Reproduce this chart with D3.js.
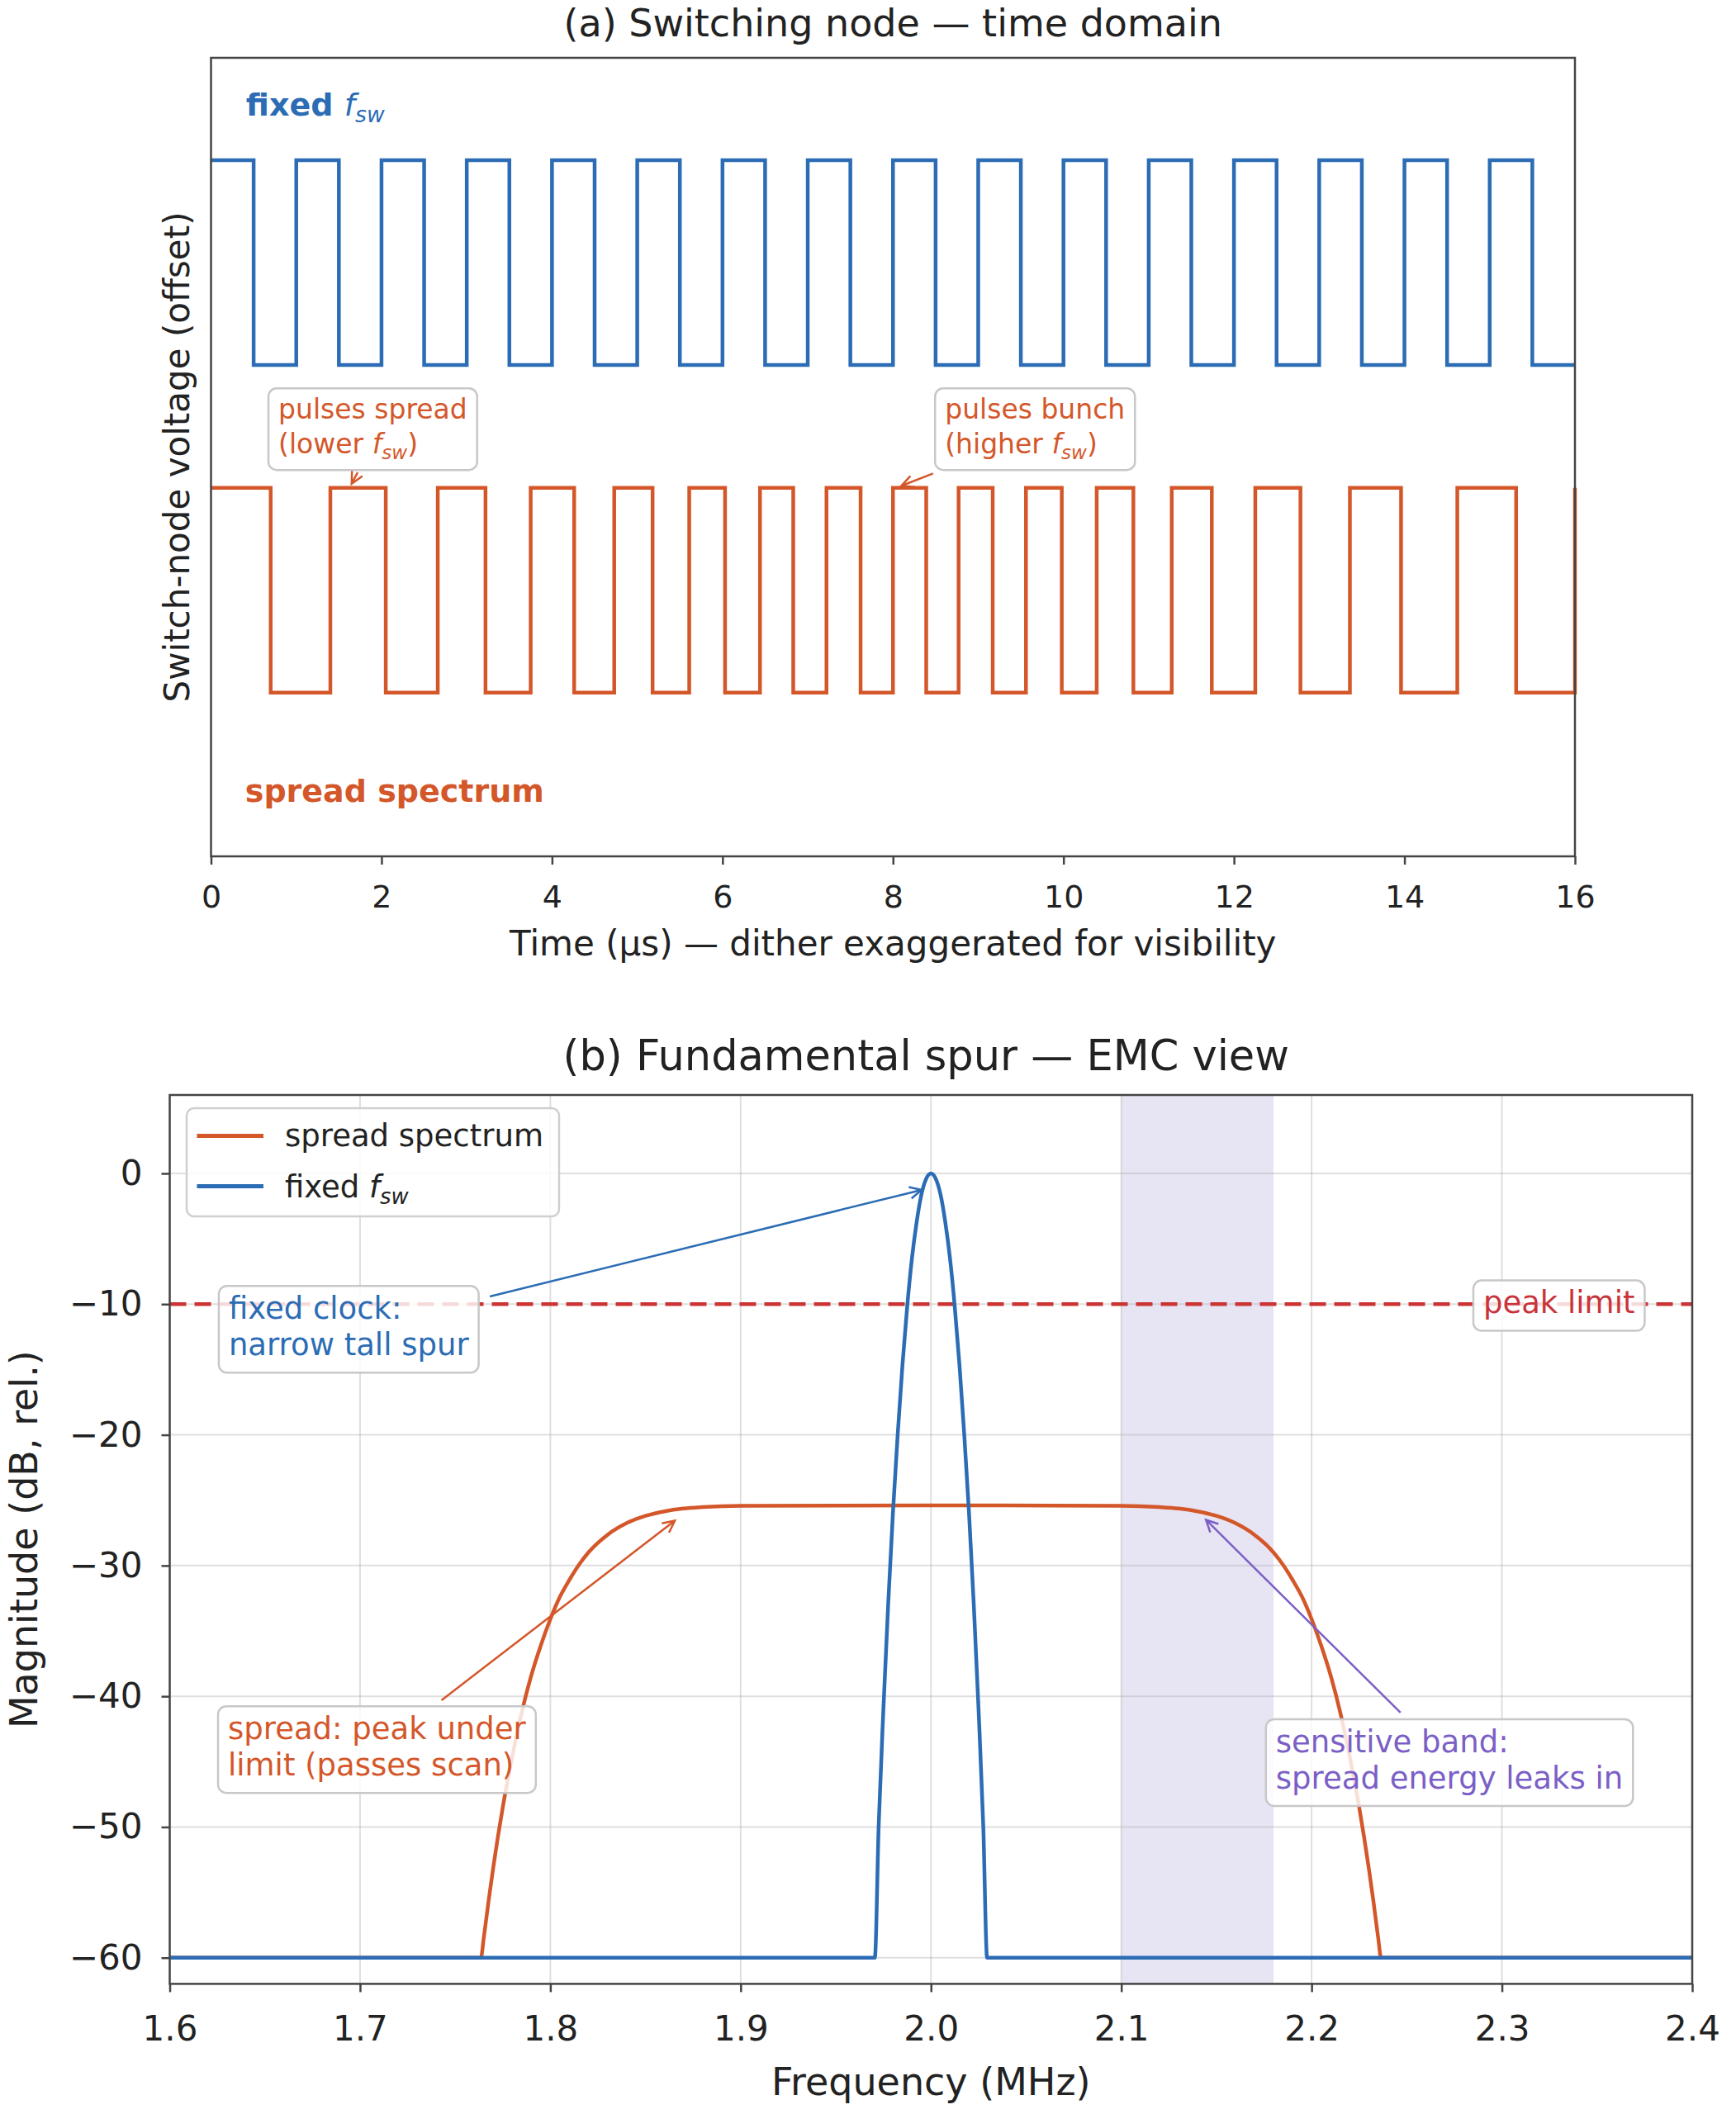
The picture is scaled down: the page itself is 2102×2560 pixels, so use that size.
<!DOCTYPE html>
<html>
<head>
<meta charset="utf-8">
<script src="https://cdn.jsdelivr.net/npm/d3@7"></script>
<style>
  body { margin: 0; background: #fff; }
  text { font-family: "DejaVu Sans", sans-serif; }
</style>
</head>
<body>
<svg id="chart" width="2102" height="2560"></svg>
<script>
// ---- panel (a): switch-node waveforms ----
const timeTicks = [0, 2, 4, 6, 8, 10, 12, 14, 16];
// edge times (µs); each waveform starts high and toggles at every edge
const fixedEdges = [0.5, 1.0, 1.5, 2.0, 2.5, 3.0, 3.5, 4.0, 4.5, 5.0, 5.5, 6.0, 6.5, 7.0, 7.5, 8.0,
  8.5, 9.0, 9.5, 10.0, 10.5, 11.0, 11.5, 12.0, 12.5, 13.0, 13.5, 14.0, 14.5, 15.0, 15.5];
const spreadEdges = [0.70, 1.40, 2.05, 2.66, 3.22, 3.75, 4.26, 4.73, 5.18, 5.61, 6.03, 6.44, 6.83,
  7.22, 7.62, 8.00, 8.39, 8.77, 9.17, 9.56, 9.98, 10.39, 10.82, 11.27, 11.74, 12.25, 12.78,
  13.36, 13.96, 14.62, 15.31, 16.0];
const fixedLevels = [1.6, 2.6];   // low, high (offset)
const spreadLevels = [0, 1];

// ---- panel (b): fundamental spur spectrum ----
const freqTicks = [1.6, 1.7, 1.8, 1.9, 2.0, 2.1, 2.2, 2.3, 2.4];
const magTicks = [-60, -50, -40, -30, -20, -10, 0];
const fixedFreq = [1.6, 1.9705, 1.9725, 1.975, 1.9775, 1.98, 1.9825, 1.985, 1.9875, 1.99, 1.9925,
  1.995, 1.9975, 2.0, 2.0025, 2.005, 2.0075, 2.01, 2.0125, 2.015, 2.0175, 2.02, 2.0225, 2.025,
  2.0275, 2.0295, 2.4];
const fixedMag = [-60, -60, -50, -41, -33, -26, -20, -14.7, -10.2, -6.5, -3.7,
  -1.6, -0.4, 0, -0.4, -1.6, -3.7, -6.5, -10.2, -14.7, -20, -26, -33, -41,
  -50, -60, -60];
const spreadFreq = [1.6, 1.7635, 1.765, 1.7675, 1.77, 1.775, 1.78, 1.785, 1.79, 1.795, 1.80,
  1.805, 1.81, 1.815, 1.82, 1.83, 1.84, 1.85, 1.86, 1.87, 1.88, 1.90, 2.0, 2.10, 2.12, 2.13,
  2.14, 2.15, 2.16, 2.17, 2.18, 2.185, 2.19, 2.195, 2.20, 2.205, 2.21, 2.215, 2.22, 2.225,
  2.23, 2.2325, 2.235, 2.2365, 2.4];
const spreadMag = [-60, -60, -58.5, -55.7, -53.1, -48.5, -44.6, -41.2, -38.4, -36.1, -34.1,
  -32.4, -31.1, -29.95, -29.0, -27.65, -26.76, -26.2, -25.85, -25.64, -25.53, -25.43, -25.4, -25.43, -25.53, -25.64,
  -25.85, -26.2, -26.76, -27.65, -29.0, -29.95, -31.1, -32.4, -34.1, -36.1, -38.4, -41.2, -44.6, -48.5,
  -53.1, -55.7, -58.5, -60, -60];
const peakLimit = -10;
const sensitiveBand = [2.10, 2.18];

const BLUE = '#2b6cb4', ORANGE = '#d4572a', RED = '#cc3333', PURPLE = '#7b5fc6';
const INK = '#222';

const svg = d3.select('#chart');

// text with mathtext-like f_sw written as {fsw}
function richText(sel, str, fs) {
  const parts = str.split('{fsw}');
  let shifted = false;
  parts.forEach((p, i) => {
    if (p) {
      const t = sel.append('tspan').text(p);
      if (shifted) { t.attr('dy', -0.22 * fs); shifted = false; }
    }
    if (i < parts.length - 1) {
      sel.append('tspan').attr('font-style', 'italic').attr('font-weight', 'normal').text('f');
      sel.append('tspan').attr('font-style', 'italic').attr('font-weight', 'normal')
        .attr('font-size', 0.7 * fs).attr('dy', 0.22 * fs).text('sw');
      shifted = true;
    }
  });
}

function arrow(g, p0, p1, color, lw) {
  const [x0, y0] = p0, [x1, y1] = p1;
  g.append('line').attr('x1', x0).attr('y1', y0).attr('x2', x1).attr('y2', y1)
    .attr('stroke', color).attr('stroke-width', lw);
  const a = Math.atan2(y1 - y0, x1 - x0), hl = 16, ha = 0.46;
  const pts = [[x1 - hl * Math.cos(a - ha), y1 - hl * Math.sin(a - ha)], [x1, y1],
    [x1 - hl * Math.cos(a + ha), y1 - hl * Math.sin(a + ha)]];
  g.append('path').attr('d', d3.line()(pts)).attr('fill', 'none')
    .attr('stroke', color).attr('stroke-width', lw).attr('stroke-linejoin', 'miter');
}

// boxed multi-line label; (px, py) = left x & first baseline, or centre x if center=true
function boxedLabel(g, ann, fs, lineGap) {
  const grp = g.append('g');
  const box = grp.append('rect');
  const texts = ann.lines.map((ln, i) => {
    const t = grp.append('text').attr('font-size', fs).attr('fill', ann.color)
      .attr('x', ann.px).attr('y', ann.py + i * lineGap);
    richText(t, ln, fs);
    return t;
  });
  const w = d3.max(texts, t => t.node().getComputedTextLength());
  let x0 = ann.px;
  if (ann.center) {
    x0 = ann.px - w / 2;
    texts.forEach(t => t.attr('x', x0));
  }
  const top = ann.py - 0.75 * fs - 12;
  const bottom = ann.py + (ann.lines.length - 1) * lineGap + 0.25 * fs + 12;
  box.attr('x', x0 - 12).attr('y', top).attr('width', w + 24).attr('height', bottom - top)
    .attr('rx', 10).attr('fill', '#fff').attr('fill-opacity', 0.82)
    .attr('stroke', '#c8c8c8').attr('stroke-width', 2.5);
}

// ================= panel (a) =================
const A = { left: 255.5, right: 1907, top: 70, bottom: 1037 };
const xT = d3.scaleLinear().domain([0, 16]).range([A.left, A.right]);
const yT = d3.scaleLinear().domain([-0.8, 3.1]).range([A.bottom, A.top]);
const gA = svg.append('g');

function stepPoints(edges, levels) {
  const pts = [[0, levels[1]]];
  edges.forEach((e, i) => pts.push([e, levels[i % 2 === 0 ? 0 : 1]]));
  const last = pts[pts.length - 1];
  if (last[0] < 16) pts.push([16, last[1]]);
  return pts;
}
const stepLine = d3.line().x(d => xT(d[0])).y(d => yT(d[1])).curve(d3.curveStepAfter);

gA.append('path').attr('d', stepLine(stepPoints(fixedEdges, fixedLevels)))
  .attr('fill', 'none').attr('stroke', BLUE).attr('stroke-width', 4.5);
gA.append('path').attr('d', stepLine(stepPoints(spreadEdges, spreadLevels)))
  .attr('fill', 'none').attr('stroke', ORANGE).attr('stroke-width', 4.5);

// waveform labels
const fixedLbl = gA.append('text').attr('x', xT(0.41)).attr('y', yT(2.818))
  .attr('font-size', 38).attr('font-weight', 'bold').attr('fill', BLUE);
richText(fixedLbl, 'fixed {fsw}', 38);
gA.append('text').attr('x', xT(0.40)).attr('y', yT(-0.533))
  .attr('font-size', 38).attr('font-weight', 'bold').attr('fill', ORANGE).text('spread spectrum');

// annotations (a)
const annA = [
  { lines: ['pulses spread', '(lower {fsw})'], x: 0.79, y: 1.338, from: [1.72, 1.075], to: [1.65, 1.02] },
  { lines: ['pulses bunch', '(higher {fsw})'], x: 8.61, y: 1.338, from: [8.47, 1.07], to: [8.10, 1.01] }
];
annA.forEach(a => {
  arrow(gA, [xT(a.from[0]), yT(a.from[1])], [xT(a.to[0]), yT(a.to[1])], ORANGE, 2.5);
  boxedLabel(gA, { lines: a.lines, px: xT(a.x), py: yT(a.y), color: ORANGE }, 33, 42);
});

// axes (a)
const axA = gA.append('g').attr('transform', `translate(0,${A.bottom})`)
  .call(d3.axisBottom(xT).tickValues(timeTicks).tickFormat(d3.format('d')).tickSize(10).tickPadding(25));
axA.select('.domain').remove();
axA.selectAll('line').attr('stroke', '#444').attr('stroke-width', 2.5);
axA.selectAll('text').attr('font-size', 38).attr('fill', INK).style('font-family', '"DejaVu Sans", sans-serif');
gA.append('rect').attr('x', A.left).attr('y', A.top).attr('width', A.right - A.left)
  .attr('height', A.bottom - A.top).attr('fill', 'none').attr('stroke', '#444').attr('stroke-width', 2.5);

gA.append('text').attr('x', (A.left + A.right) / 2).attr('y', 44).attr('text-anchor', 'middle')
  .attr('font-size', 46).attr('fill', INK).text('(a) Switching node — time domain');
gA.append('text').attr('x', (A.left + A.right) / 2).attr('y', 1157).attr('text-anchor', 'middle')
  .attr('font-size', 42).attr('fill', INK).text('Time (µs) — dither exaggerated for visibility');
gA.append('text').attr('transform', `translate(229,${(A.top + A.bottom) / 2}) rotate(-90)`)
  .attr('text-anchor', 'middle').attr('font-size', 42).attr('fill', INK)
  .text('Switch-node voltage (offset)');

// ================= panel (b) =================
const B = { left: 205.5, right: 2049, top: 1326, bottom: 2402.4 };
const xB = d3.scaleLinear().domain([1.6, 2.4]).range([B.left, B.right]);
const yB = d3.scaleLinear().domain([-62, 6]).range([B.bottom, B.top]);
const gB = svg.append('g');

svg.append('defs').append('clipPath').attr('id', 'clipB').append('rect')
  .attr('x', B.left).attr('y', B.top).attr('width', B.right - B.left).attr('height', B.bottom - B.top);
const plotB = gB.append('g').attr('clip-path', 'url(#clipB)');

// sensitive band
plotB.append('rect').attr('x', xB(sensitiveBand[0])).attr('y', B.top)
  .attr('width', xB(sensitiveBand[1]) - xB(sensitiveBand[0])).attr('height', B.bottom - B.top)
  .attr('fill', '#7060c0').attr('fill-opacity', 0.17);

// grid
plotB.selectAll('.vg').data(freqTicks).join('line')
  .attr('x1', d => xB(d)).attr('x2', d => xB(d)).attr('y1', B.top).attr('y2', B.bottom)
  .attr('stroke', '#b0b0b0').attr('stroke-opacity', 0.4).attr('stroke-width', 2);
plotB.selectAll('.hg').data(magTicks).join('line')
  .attr('y1', d => yB(d)).attr('y2', d => yB(d)).attr('x1', B.left).attr('x2', B.right)
  .attr('stroke', '#b0b0b0').attr('stroke-opacity', 0.4).attr('stroke-width', 2);

// peak limit
plotB.append('line').attr('x1', B.left).attr('x2', B.right)
  .attr('y1', yB(peakLimit)).attr('y2', yB(peakLimit))
  .attr('stroke', RED).attr('stroke-width', 4.5).attr('stroke-dasharray', '20,10');

const specLine = d3.line().x(d => xB(d[0])).y(d => yB(d[1])).curve(d3.curveMonotoneX);
plotB.append('path').attr('d', specLine(d3.zip(spreadFreq, spreadMag)))
  .attr('fill', 'none').attr('stroke', ORANGE).attr('stroke-width', 4.5);
plotB.append('path').attr('d', specLine(d3.zip(fixedFreq, fixedMag)))
  .attr('fill', 'none').attr('stroke', BLUE).attr('stroke-width', 4.5);

// annotations (b)
const annB = [
  { lines: ['fixed clock:', 'narrow tall spur'], x: 1.631, y: -11.12, color: BLUE,
    from: [1.7682, -9.41], to: [1.9951, -1.26] },
  { lines: ['spread: peak under', 'limit (passes scan)'], x: 1.6306, y: -43.27, color: ORANGE,
    from: [1.7428, -40.3], to: [1.8654, -26.57] },
  { lines: ['sensitive band:', 'spread energy leaks in'], x: 2.1812, y: -44.27, color: PURPLE,
    from: [2.2467, -41.25], to: [2.1445, -26.5] }
];
annB.forEach(a => arrow(gB, [xB(a.from[0]), yB(a.from[1])], [xB(a.to[0]), yB(a.to[1])], a.color, 2.5));
annB.forEach(a => boxedLabel(gB, { lines: a.lines, px: xB(a.x), py: yB(a.y), color: a.color }, 37, 44));
boxedLabel(gB, { lines: ['peak limit'], px: xB(2.33), py: yB(peakLimit) + 0.3 * 37, color: '#c9343b', center: true }, 37, 44);

// legend
const leg = gB.append('g');
const legItems = [{ label: 'spread spectrum', color: ORANGE }, { label: 'fixed {fsw}', color: BLUE }];
const legBox = leg.append('rect');
legItems.forEach((it, i) => {
  const cy = B.top + 49.4 + i * 61.2;
  leg.append('line').attr('x1', B.left + 33).attr('x2', B.left + 113.5).attr('y1', cy).attr('y2', cy)
    .attr('stroke', it.color).attr('stroke-width', 5);
  const t = leg.append('text').attr('x', B.left + 139.5).attr('y', cy + 13).attr('font-size', 37).attr('fill', INK);
  richText(t, it.label, 37);
});
legBox.attr('x', B.left + 20.5).attr('y', B.top + 16).attr('width', 451).attr('height', 131)
  .attr('rx', 9).attr('fill', '#fff').attr('fill-opacity', 0.85)
  .attr('stroke', '#cfcfcf').attr('stroke-width', 2.5);

// axes (b)
const axBx = gB.append('g').attr('transform', `translate(0,${B.bottom})`)
  .call(d3.axisBottom(xB).tickValues(freqTicks).tickFormat(d3.format('.1f')).tickSize(10).tickPadding(29));
const axBy = gB.append('g').attr('transform', `translate(${B.left},0)`)
  .call(d3.axisLeft(yB).tickValues(magTicks).tickFormat(d => d < 0 ? '\u2212' + Math.abs(d) : String(d))
    .tickSize(10).tickPadding(23));
[axBx, axBy].forEach(ax => {
  ax.select('.domain').remove();
  ax.selectAll('line').attr('stroke', '#444').attr('stroke-width', 2.5);
  ax.selectAll('text').attr('font-size', 42).attr('fill', INK).style('font-family', '"DejaVu Sans", sans-serif');
});
gB.append('rect').attr('x', B.left).attr('y', B.top).attr('width', B.right - B.left)
  .attr('height', B.bottom - B.top).attr('fill', 'none').attr('stroke', '#444').attr('stroke-width', 2.5);

gB.append('text').attr('x', (B.left + B.right) / 2 - 6).attr('y', 1296).attr('text-anchor', 'middle')
  .attr('font-size', 51).attr('fill', INK).text('(b) Fundamental spur — EMC view');
gB.append('text').attr('x', (B.left + B.right) / 2).attr('y', 2537).attr('text-anchor', 'middle')
  .attr('font-size', 46).attr('fill', INK).text('Frequency (MHz)');
gB.append('text').attr('transform', `translate(45,${(B.top + B.bottom) / 2}) rotate(-90)`)
  .attr('text-anchor', 'middle').attr('font-size', 46).attr('fill', INK).text('Magnitude (dB, rel.)');
</script>
</body>
</html>
